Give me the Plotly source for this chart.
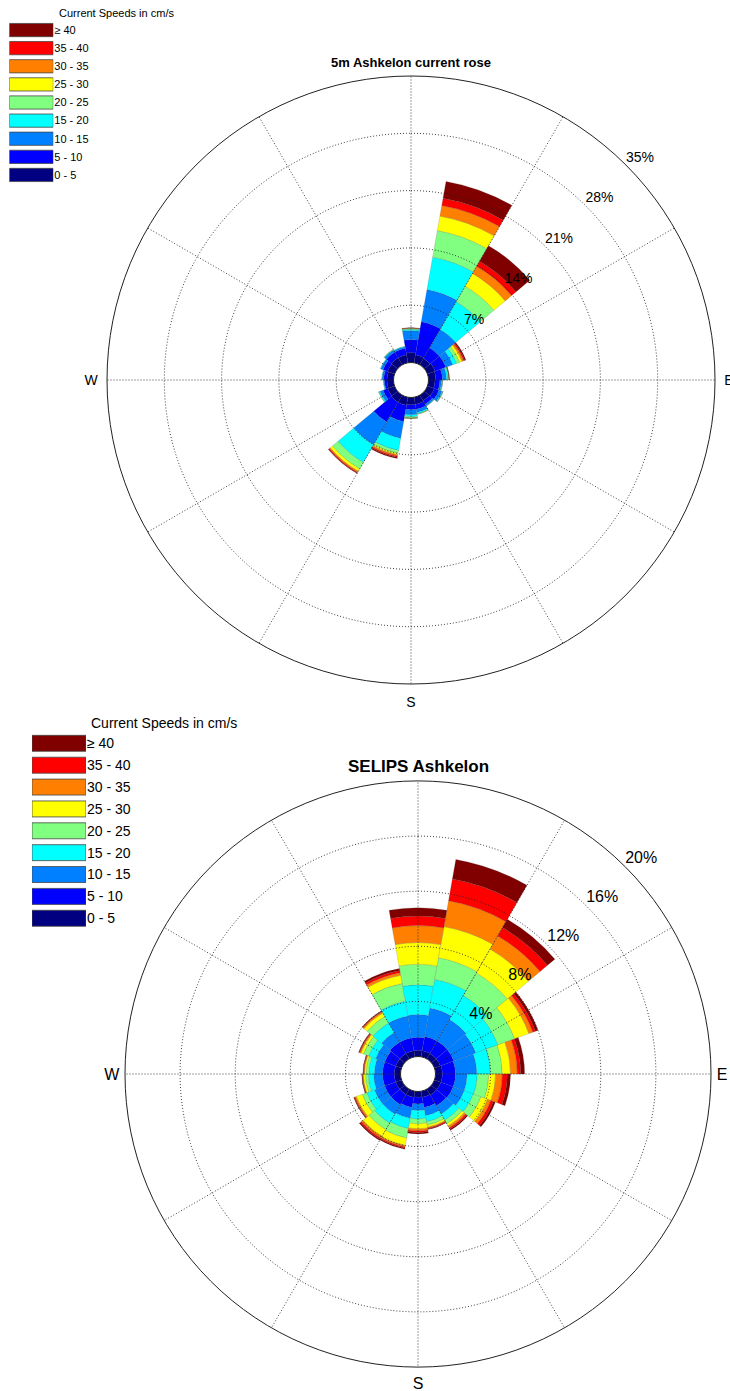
import numpy as np
import plotly.graph_objects as go

# ---------------- data ----------------
directions = list(range(0, 360, 20))  # sector centres, degrees (20 deg wide)
speed_bins = ["0 - 5", "5 - 10", "10 - 15", "15 - 20", "20 - 25",
              "25 - 30", "30 - 35", "35 - 40", "\u2265 40"]
bin_colors = ["#000080", "#0000FF", "#0080FF", "#00FFFF", "#80FF80",
              "#FFFF00", "#FF8000", "#FF0000", "#800000"]

# cumulative frequency (%) at the outer edge of each speed bin, per direction
top_cum = [
    [1.2, 2.8, 3.9, 4.05, 4.15, 4.2, 4.22, 4.24, 4.25],    # 0
    [1.0, 5.1, 9.1, 13.1, 16.4, 18.2, 19.5, 20.4, 22.5],   # 20
    [0.9, 2.4, 5.0, 8.9, 11.1, 12.9, 13.9, 14.6, 16.8],    # 40
    [1.0, 2.4, 3.3, 3.8, 4.2, 4.5, 4.7, 4.85, 5.0],        # 60
    [0.9, 1.7, 2.2, 2.4, 2.5, 2.52, 2.53, 2.54, 2.55],     # 80
    [0.8, 1.4, 1.6, 1.7, 1.72, 1.73, 1.73, 1.73, 1.73],    # 100
    [0.9, 1.5, 1.9, 2.0, 2.02, 2.03, 2.03, 2.03, 2.03],    # 120
    [0.8, 1.3, 1.5, 1.55, 1.57, 1.57, 1.57, 1.57, 1.57],   # 140
    [0.9, 1.5, 1.9, 2.05, 2.1, 2.12, 2.12, 2.12, 2.12],    # 160
    [0.9, 1.5, 2.1, 2.35, 2.5, 2.55, 2.57, 2.58, 2.58],    # 180
    [1.0, 3.0, 5.1, 6.6, 6.95, 7.15, 7.3, 7.45, 7.6],      # 200
    [1.0, 3.8, 7.0, 9.5, 10.4, 10.75, 10.9, 11.0, 11.05],  # 220
    [0.9, 1.5, 1.9, 2.05, 2.1, 2.1, 2.1, 2.1, 2.1],        # 240
    [0.8, 1.1, 1.2, 1.25, 1.25, 1.25, 1.25, 1.25, 1.25],   # 260
    [0.8, 1.2, 1.4, 1.45, 1.45, 1.45, 1.45, 1.45, 1.45],   # 280
    [0.9, 1.5, 1.8, 1.85, 1.85, 1.85, 1.85, 1.85, 1.85],   # 300
    [1.0, 1.8, 2.1, 2.15, 2.2, 2.2, 2.2, 2.2, 2.2],        # 320
    [1.0, 1.8, 2.0, 2.05, 2.05, 2.05, 2.05, 2.05, 2.05],   # 340
]

bottom_cum = [
    [0.45, 1.4, 3.05, 5.2, 6.7, 8.27, 9.5, 10.2, 10.8],    # 0
    [0.45, 1.5, 3.6, 5.7, 7.3, 9.6, 11.5, 13.1, 14.55],    # 20
    [0.45, 1.5, 3.3, 5.3, 7.2, 9.2, 10.3, 11.0, 11.7],     # 40
    [0.45, 1.5, 3.2, 4.9, 6.2, 7.3, 7.6, 7.8, 8.0],        # 60
    [0.5, 1.45, 3.0, 4.0, 4.85, 5.45, 5.94, 6.18, 6.47],   # 80
    [0.5, 1.45, 2.3, 3.03, 3.87, 4.36, 4.85, 5.21, 5.45],  # 100
    [0.5, 1.45, 2.3, 3.0, 3.6, 4.1, 4.35, 4.55, 4.7],      # 120
    [0.5, 1.4, 2.1, 2.6, 2.9, 3.1, 3.25, 3.35, 3.45],      # 140
    [0.45, 1.2, 1.8, 2.25, 2.5, 2.65, 2.72, 2.78, 2.82],   # 160
    [0.41, 0.9, 1.38, 2.0, 2.35, 2.71, 2.85, 2.97, 3.08],  # 180
    [0.45, 1.2, 2.0, 2.75, 3.45, 4.0, 4.1, 4.18, 4.27],    # 200
    [0.45, 1.3, 2.1, 2.85, 3.4, 3.95, 4.1, 4.2, 4.3],      # 220
    [0.45, 1.3, 2.1, 2.7, 3.05, 3.5, 3.6, 3.65, 3.7],      # 240
    [0.45, 1.3, 1.95, 2.35, 2.55, 2.7, 2.75, 2.78, 2.82],  # 260
    [0.45, 1.3, 1.9, 2.3, 2.5, 2.62, 2.68, 2.71, 2.74],    # 280
    [0.45, 1.3, 2.0, 2.55, 2.95, 3.15, 3.23, 3.28, 3.32],  # 300
    [0.45, 1.4, 2.2, 3.0, 3.55, 3.85, 3.95, 4.0, 4.03],    # 320
    [0.45, 1.4, 3.0, 4.1, 5.4, 6.0, 6.2, 6.35, 6.5],       # 340
]

top_rings = [7, 14, 21, 28, 35]
bottom_rings = [4, 8, 12, 16, 20]
compass_vals = [90, 180, 270]
compass_text = ["E", "S", "W"]
top_title = "5m Ashkelon current rose"
bottom_title = "SELIPS Ashkelon"
legend_title = "Current Speeds in cm/s"

FONT = "Liberation Sans, Arial, Helvetica, sans-serif"
GRID = "rgba(30,30,30,0.85)"

fig = go.Figure()


def add_rose(cum, rings, subplot, label_size):
    cum = np.asarray(cum, dtype=float)
    inc = np.diff(cum, axis=1, prepend=0.0)
    for k, name in enumerate(speed_bins):
        fig.add_trace(go.Barpolar(
            r=inc[:, k], theta=directions, width=[20] * len(directions),
            marker=dict(color=bin_colors[k],
                        line=dict(color="rgba(70,70,70,0.35)", width=0.5)),
            name=name, showlegend=False, subplot=subplot, hoverinfo="skip"))
    rmax = rings[-1]
    # dotted grid circles and spokes drawn above the bars
    th = np.linspace(0, 360, 361)
    gr, gt = [], []
    for ring in rings[:-1]:
        gr += [ring] * len(th) + [None]
        gt += list(th) + [None]
    for a in range(0, 360, 30):
        gr += [0, rmax, None]
        gt += [a, a, None]
    fig.add_trace(go.Scatterpolar(
        r=gr, theta=gt, mode="lines", subplot=subplot,
        line=dict(color=GRID, width=1, dash="1px,2px"),
        showlegend=False, hoverinfo="skip"))
    fig.add_trace(go.Scatterpolar(
        r=rings, theta=[45] * len(rings), mode="text",
        text=[f"{v}%" for v in rings], textposition="top right",
        textfont=dict(size=label_size, color="black", family=FONT),
        cliponaxis=False, subplot=subplot, showlegend=False, hoverinfo="skip"))


add_rose(top_cum, top_rings, "polar", 14)
add_rose(bottom_cum, bottom_rings, "polar2", 16)

# legend swatches (drawn as small horizontal bars on hidden axes)
swatch = np.ones(len(speed_bins))
for xa, ya in (("x", "y"), ("x2", "y2")):
    fig.add_trace(go.Bar(
        x=swatch, y=speed_bins, orientation="h", xaxis=xa, yaxis=ya,
        marker=dict(color=bin_colors, line=dict(color="rgba(70,70,70,0.8)", width=1)),
        showlegend=False, hoverinfo="skip"))


def polar_layout(cx, cy, R, rmax, tick_size, ticklen):
    W, H = 730, 1391
    return dict(
        domain=dict(x=[(cx - R) / W, (cx + R) / W],
                    y=[1 - (cy + R) / H, 1 - (cy - R) / H]),
        hole=17.5 / R,
        bgcolor="white",
        bargap=0,
        radialaxis=dict(range=[0, rmax], showticklabels=False, showgrid=False,
                        showline=False, ticks=""),
        angularaxis=dict(rotation=90, direction="clockwise",
                         tickmode="array", tickvals=compass_vals, ticktext=compass_text,
                         showgrid=False, showline=True, linecolor="#222", linewidth=1,
                         ticks="outside", ticklen=ticklen, tickcolor="rgba(0,0,0,0)",
                         tickfont=dict(size=tick_size, family=FONT, color="black")),
    )


fig.update_layout(
    width=730, height=1391,
    margin=dict(l=0, r=0, t=0, b=0),
    paper_bgcolor="white", plot_bgcolor="white",
    font=dict(family=FONT, color="black"),
    showlegend=False,
    bargap=0.27,
    polar=polar_layout(411, 380, 304, top_rings[-1], 14, 6),
    polar2=polar_layout(418, 1074, 293, bottom_rings[-1], 16, 2),
    xaxis=dict(domain=[9.3 / 730, 53.3 / 730], range=[0, 1], visible=False, fixedrange=True),
    yaxis=dict(domain=[1 - 184 / 1391, 1 - 21 / 1391], anchor="x", side="right",
               showgrid=False, zeroline=False, showline=False, ticks="",
               tickfont=dict(size=11, family=FONT), fixedrange=True),
    xaxis2=dict(domain=[32 / 730, 86 / 730], range=[0, 1], visible=False, fixedrange=True),
    yaxis2=dict(domain=[1 - 929.2 / 1391, 1 - 732.4 / 1391], anchor="x2", side="right",
                showgrid=False, zeroline=False, showline=False, ticks="",
                tickfont=dict(size=14, family=FONT), fixedrange=True),
    annotations=[
        dict(text=f"<b>{top_title}</b>", x=411 / 730, y=1 - 63 / 1391, xref="paper", yref="paper",
             showarrow=False, font=dict(size=13, family=FONT), xanchor="center", yanchor="middle"),
        dict(text=f"<b>{bottom_title}</b>", x=418 / 730, y=1 - 767 / 1391, xref="paper", yref="paper",
             showarrow=False, font=dict(size=17, family=FONT), xanchor="center", yanchor="middle"),
        dict(text=legend_title, x=57 / 730, y=1 - 13 / 1391, xref="paper", yref="paper",
             showarrow=False, font=dict(size=11, family=FONT), xanchor="left", yanchor="middle"),
        dict(text=legend_title, x=89 / 730, y=1 - 723 / 1391, xref="paper", yref="paper",
             showarrow=False, font=dict(size=14, family=FONT), xanchor="left", yanchor="middle"),
    ],
)

fig.write_html(
    "out.html",
    config={"displayModeBar": False},
    post_script="document.body.style.margin='0';document.body.style.overflow='hidden';",
)
